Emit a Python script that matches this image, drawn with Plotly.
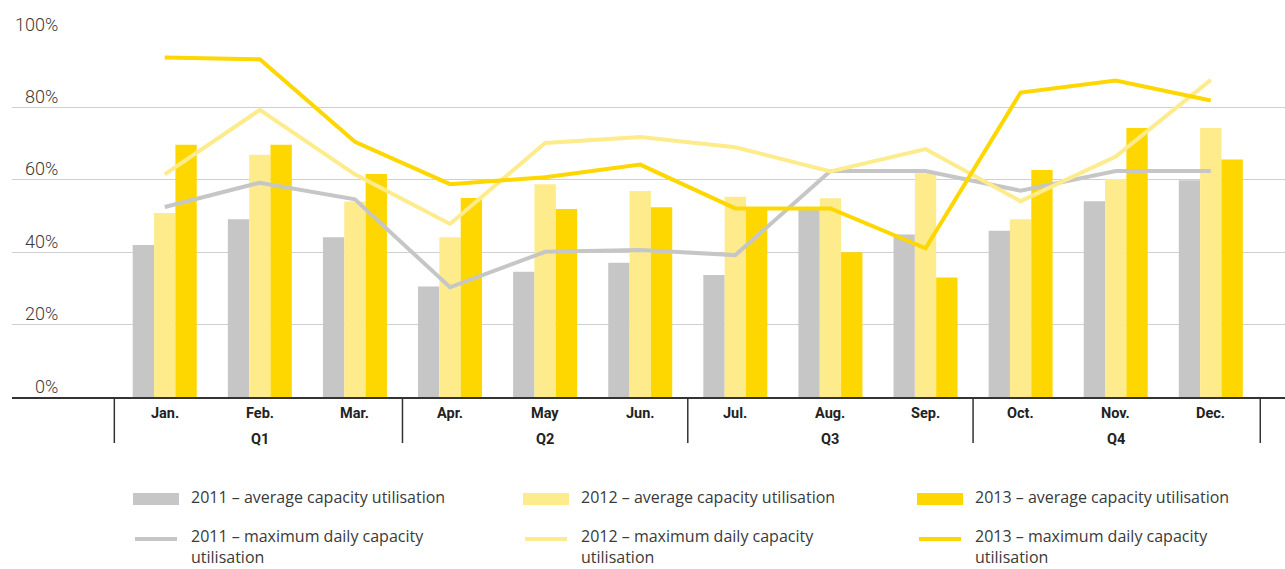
import plotly.graph_objects as go

# ---- data -------------------------------------------------------------
months = ["Jan.", "Feb.", "Mar.", "Apr.", "May", "Jun.",
          "Jul.", "Aug.", "Sep.", "Oct.", "Nov.", "Dec."]
quarters = ["Q1", "Q2", "Q3", "Q4"]
y_ticks = [0, 20, 40, 60, 80, 100]
y_tick_text = ["0%", "20%", "40%", "60%", "80%", "100%"]

avg_2011 = [42.0, 49.1, 44.1, 30.5, 34.6, 37.1, 33.7, 51.7, 44.9, 45.9, 54.1, 59.9]
avg_2012 = [50.8, 66.9, 54.0, 44.1, 58.8, 56.9, 55.3, 54.9, 61.8, 49.1, 60.2, 74.3]
avg_2013 = [69.7, 69.7, 61.6, 55.0, 51.9, 52.4, 51.8, 40.0, 33.0, 62.7, 74.3, 65.6]

max_2011 = [52.5, 59.2, 54.6, 30.3, 40.1, 40.6, 39.2, 62.4, 62.4, 57.0, 62.4, 62.4]
max_2012 = [61.5, 79.3, 61.5, 47.8, 70.2, 71.8, 69.0, 62.3, 68.5, 54.1, 66.4, 87.6]
max_2013 = [93.8, 93.3, 70.5, 58.8, 60.7, 64.2, 52.1, 52.1, 41.1, 84.1, 87.4, 81.9]

bar_names = ["2011 – average capacity utilisation",
             "2012 – average capacity utilisation",
             "2013 – average capacity utilisation"]
line_names = ["2011 – maximum daily capacity<br>utilisation",
              "2012 – maximum daily capacity<br>utilisation",
              "2013 – maximum daily capacity<br>utilisation"]

# ---- styling ----------------------------------------------------------
GREY = "#c6c6c6"
LIGHT = "#feeb8b"
GOLD = "#fed700"
colors = [GREY, LIGHT, GOLD]
TEXT = "#3a3a3a"
FONT = "Roboto"
LEG_FONT = "Open Sans"

W, H = 1285, 569
M_L, M_R, M_T, M_B = 12, 0, 35, 172
PW = W - M_L - M_R
PH = H - M_T - M_B

x = list(range(len(months)))

fig = go.Figure()

for name, vals, col in zip(bar_names, [avg_2011, avg_2012, avg_2013], colors):
    fig.add_trace(go.Bar(x=x, y=vals, name=name, marker=dict(color=col, line_width=0),
                         showlegend=False))

for name, vals, col in zip(line_names, [max_2011, max_2012, max_2013], colors):
    fig.add_trace(go.Scatter(x=x, y=vals, name=name.replace("<br>", " "), mode="lines",
                             line=dict(color=col, width=4), showlegend=False))


def px_x(px):
    return (px - M_L) / PW


def px_y(py):
    return (H - M_B - py) / PH


annotations = []
shapes = []

# y tick labels sitting above their gridlines
for v, t in zip(y_ticks, y_tick_text):
    annotations.append(dict(x=px_x(60), xref="paper", y=v, yref="y", text=t,
                            xanchor="right", yanchor="middle", yshift=11,
                            showarrow=False,
                            font=dict(family=FONT, size=18, color=TEXT, weight=300)))

# month labels
for i, m in enumerate(months):
    annotations.append(dict(x=i, xref="x", y=0, yref="paper", text=m,
                            xanchor="center", yanchor="middle", yshift=-16,
                            showarrow=False,
                            font=dict(family=FONT, size=14.5, color="#222222", weight="bold")))

# quarter labels and separators
for q, qname in enumerate(quarters):
    annotations.append(dict(x=3 * q + 1, xref="x", y=0, yref="paper", text=qname,
                            xanchor="center", yanchor="middle", yshift=-42,
                            showarrow=False,
                            font=dict(family=FONT, size=14.5, color="#222222", weight="bold")))

sep_x = [-0.53, 2.5, 5.5, 8.5, 11.52]
for sx in sep_x:
    shapes.append(dict(type="line", xref="x", yref="paper", x0=sx, x1=sx,
                       y0=0, y1=px_y(443), line=dict(color="#333333", width=1.5)))

# legend
col_x = [133, 523, 917]
for k in range(3):
    x0 = col_x[k]
    shapes.append(dict(type="rect", xref="paper", yref="paper",
                       x0=px_x(x0), x1=px_x(x0 + 46), y0=px_y(505), y1=px_y(493),
                       fillcolor=colors[k], line_width=0))
    shapes.append(dict(type="line", xref="paper", yref="paper",
                       x0=px_x(x0 + 2), x1=px_x(x0 + 44), y0=px_y(539), y1=px_y(539),
                       line=dict(color=colors[k], width=4)))
    annotations.append(dict(x=px_x(x0 + 56), xref="paper", y=px_y(497), yref="paper",
                            text=bar_names[k], xanchor="left", yanchor="middle",
                            showarrow=False,
                            font=dict(family=LEG_FONT, size=16, color=TEXT)))
    annotations.append(dict(x=px_x(x0 + 56), xref="paper", y=px_y(546), yref="paper",
                            text=line_names[k], xanchor="left", yanchor="middle",
                            align="left", showarrow=False,
                            font=dict(family=LEG_FONT, size=16, color=TEXT)))

fig.update_layout(
    width=W, height=H,
    margin=dict(l=M_L, r=M_R, t=M_T, b=M_B, pad=0),
    paper_bgcolor="white", plot_bgcolor="white",
    barmode="group", bargap=0.327, bargroupgap=0,
    showlegend=False,
    xaxis=dict(range=[-1.606, 11.78], showgrid=False, zeroline=False,
               showticklabels=False, ticks="", showline=True,
               linecolor="#333333", linewidth=1.5, fixedrange=True),
    yaxis=dict(range=[0, 100], tickvals=y_ticks, showticklabels=False,
               showgrid=True, gridcolor="#d0d0d0", gridwidth=1.2,
               zeroline=False, showline=False, ticks="", fixedrange=True),
    annotations=annotations,
    shapes=shapes,
)

fig.write_html("out.html", config={"displayModeBar": False})
